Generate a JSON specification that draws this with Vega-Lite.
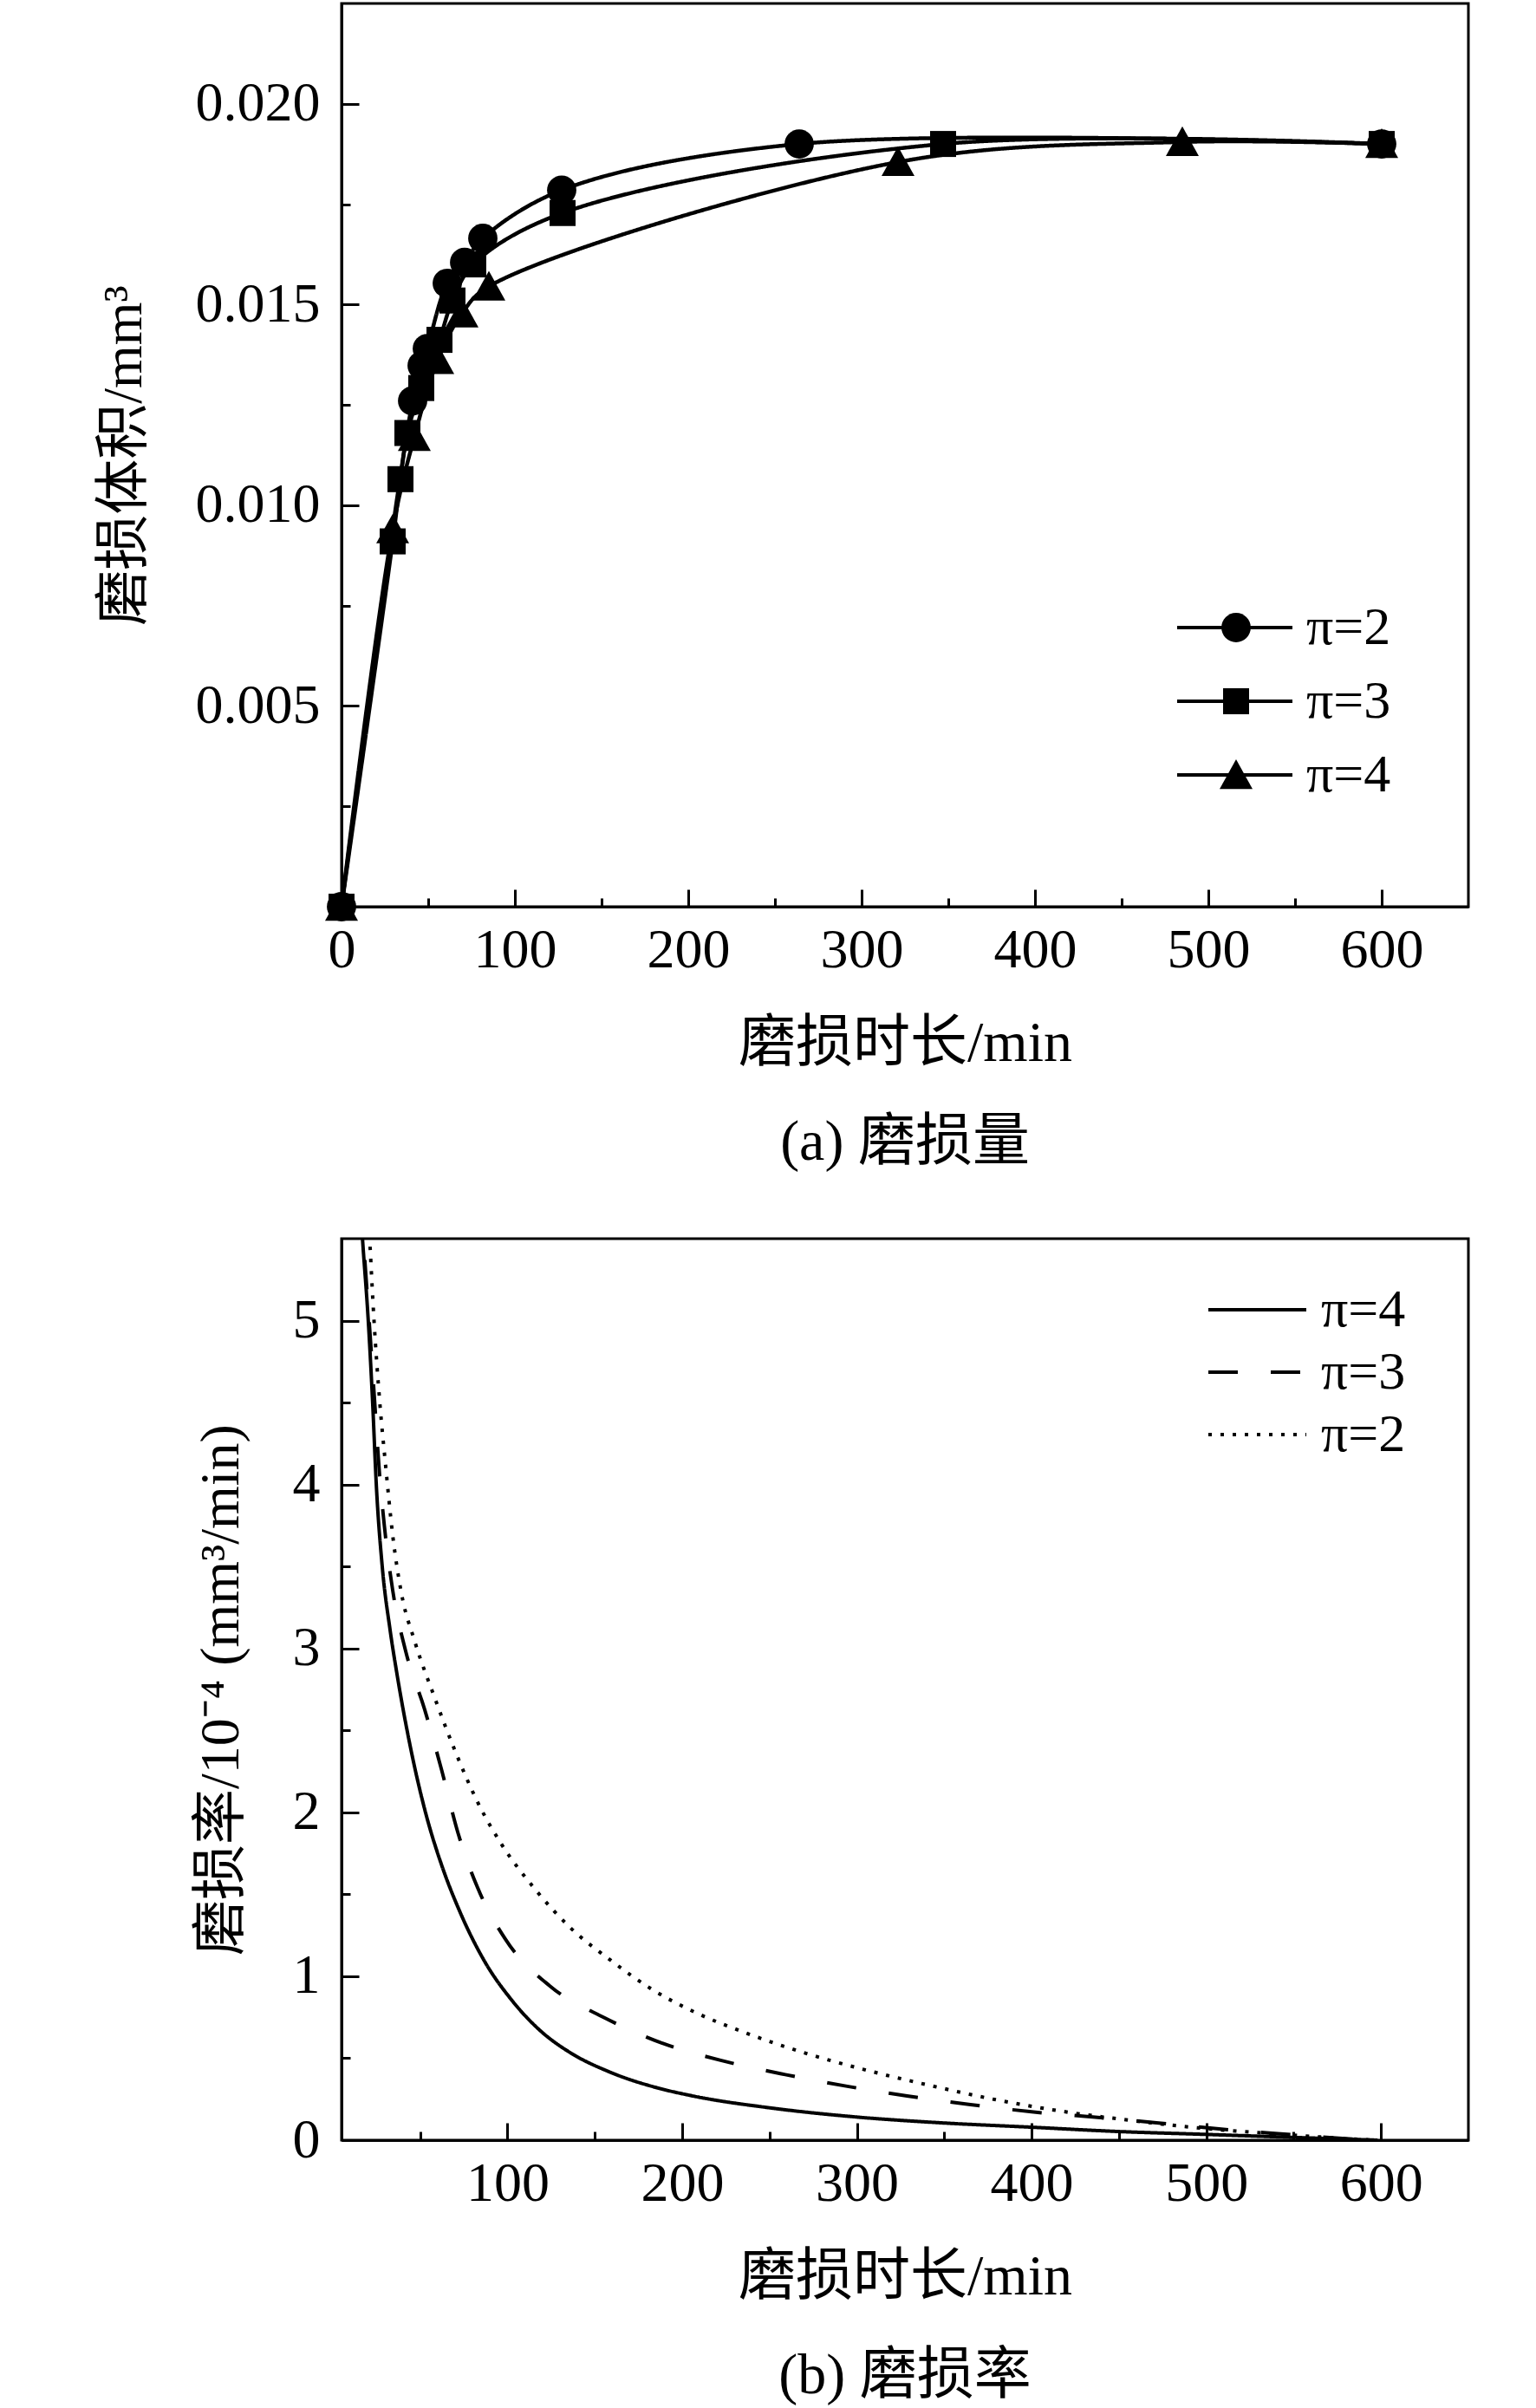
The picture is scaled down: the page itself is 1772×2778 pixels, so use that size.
{
  "$schema": "https://vega.github.io/schema/vega-lite/v6.json",
  "background": "white",
  "padding": {"left": 109, "top": 2, "right": 10, "bottom": 5},
  "spacing": 74,
  "resolve": {"legend": {"shape": "independent", "strokeDash": "independent"}, "scale": {"strokeDash": "independent"}},
  "config": {
    "font": "'Liberation Serif', 'Noto Sans CJK SC'",
    "view": {"stroke": "black", "strokeWidth": 3},
    "axis": {
      "domainColor": "black", "domainWidth": 3, "tickColor": "black", "tickWidth": 3,
      "labelColor": "black", "titleColor": "black",
      "labelFont": "'Liberation Serif'", "titleFont": "'Liberation Serif', 'Noto Sans CJK SC'",
      "labelFontSize": 64, "titleFontSize": 66, "titleFontWeight": "normal",
      "grid": false, "labelFlush": false, "labelOverlap": false
    },
    "legend": {"labelFont": "'Liberation Serif'", "labelColor": "black", "labelFontSize": 62}
  },
  "datasets": {
    "wear": [
      {"t": 0, "v": 0, "s": "π=2"},
      {"t": 41, "v": 0.0126, "s": "π=2"},
      {"t": 46.5, "v": 0.01348, "s": "π=2"},
      {"t": 49.5, "v": 0.0139, "s": "π=2"},
      {"t": 61, "v": 0.01553, "s": "π=2"},
      {"t": 71, "v": 0.01605, "s": "π=2"},
      {"t": 81.5, "v": 0.01665, "s": "π=2"},
      {"t": 127, "v": 0.01785, "s": "π=2"},
      {"t": 264, "v": 0.019, "s": "π=2"},
      {"t": 600, "v": 0.019, "s": "π=2"},
      {"t": 0, "v": 0, "s": "π=3"},
      {"t": 29.5, "v": 0.0091, "s": "π=3"},
      {"t": 34, "v": 0.01065, "s": "π=3"},
      {"t": 38, "v": 0.0118, "s": "π=3"},
      {"t": 46, "v": 0.01292, "s": "π=3"},
      {"t": 56.5, "v": 0.01412, "s": "π=3"},
      {"t": 64, "v": 0.0151, "s": "π=3"},
      {"t": 76, "v": 0.016, "s": "π=3"},
      {"t": 127.5, "v": 0.01728, "s": "π=3"},
      {"t": 347, "v": 0.019, "s": "π=3"},
      {"t": 600, "v": 0.019, "s": "π=3"},
      {"t": 0, "v": 0, "s": "π=4"},
      {"t": 29.5, "v": 0.0094, "s": "π=4"},
      {"t": 42, "v": 0.0117, "s": "π=4"},
      {"t": 55.5, "v": 0.01362, "s": "π=4"},
      {"t": 69.5, "v": 0.01478, "s": "π=4"},
      {"t": 85, "v": 0.01545, "s": "π=4"},
      {"t": 321, "v": 0.01855, "s": "π=4"},
      {"t": 485, "v": 0.01905, "s": "π=4"},
      {"t": 600, "v": 0.019, "s": "π=4"}
    ],
    "rate": [
      {"t": 15.5, "r": 5.75, "s": "π=4"},
      {"t": 17, "r": 5.5, "s": "π=4"},
      {"t": 20.3, "r": 5.0, "s": "π=4"},
      {"t": 22.8, "r": 4.5, "s": "π=4"},
      {"t": 24.9, "r": 4.0, "s": "π=4"},
      {"t": 28.3, "r": 3.5, "s": "π=4"},
      {"t": 32.7, "r": 3.12, "s": "π=4"},
      {"t": 36.8, "r": 2.84, "s": "π=4"},
      {"t": 44.2, "r": 2.41, "s": "π=4"},
      {"t": 53.3, "r": 1.99, "s": "π=4"},
      {"t": 61.6, "r": 1.7, "s": "π=4"},
      {"t": 73.1, "r": 1.385, "s": "π=4"},
      {"t": 86.4, "r": 1.1, "s": "π=4"},
      {"t": 102.9, "r": 0.848, "s": "π=4"},
      {"t": 119.4, "r": 0.662, "s": "π=4"},
      {"t": 135.9, "r": 0.534, "s": "π=4"},
      {"t": 158, "r": 0.418, "s": "π=4"},
      {"t": 185.5, "r": 0.32, "s": "π=4"},
      {"t": 205, "r": 0.272, "s": "π=4"},
      {"t": 252.5, "r": 0.194, "s": "π=4"},
      {"t": 300, "r": 0.141, "s": "π=4"},
      {"t": 347.7, "r": 0.106, "s": "π=4"},
      {"t": 400, "r": 0.079, "s": "π=4"},
      {"t": 449, "r": 0.053, "s": "π=4"},
      {"t": 500, "r": 0.035, "s": "π=4"},
      {"t": 547, "r": 0.018, "s": "π=4"},
      {"t": 598, "r": 0.0, "s": "π=4"},
      {"t": 16, "r": 5.75, "s": "π=3"},
      {"t": 17.5, "r": 5.5, "s": "π=3"},
      {"t": 20.8, "r": 5.0, "s": "π=3"},
      {"t": 24, "r": 4.5, "s": "π=3"},
      {"t": 26.5, "r": 4.1, "s": "π=3"},
      {"t": 29.5, "r": 3.75, "s": "π=3"},
      {"t": 34.3, "r": 3.354, "s": "π=3"},
      {"t": 41.8, "r": 2.98, "s": "π=3"},
      {"t": 52.5, "r": 2.63, "s": "π=3"},
      {"t": 62.4, "r": 2.254, "s": "π=3"},
      {"t": 71.5, "r": 1.88, "s": "π=3"},
      {"t": 82.7, "r": 1.545, "s": "π=3"},
      {"t": 98.8, "r": 1.226, "s": "π=3"},
      {"t": 124.3, "r": 0.94, "s": "π=3"},
      {"t": 155.7, "r": 0.746, "s": "π=3"},
      {"t": 189, "r": 0.59, "s": "π=3"},
      {"t": 224, "r": 0.482, "s": "π=3"},
      {"t": 259, "r": 0.4, "s": "π=3"},
      {"t": 293.8, "r": 0.33, "s": "π=3"},
      {"t": 328.7, "r": 0.27, "s": "π=3"},
      {"t": 365, "r": 0.217, "s": "π=3"},
      {"t": 400, "r": 0.173, "s": "π=3"},
      {"t": 435, "r": 0.141, "s": "π=3"},
      {"t": 471.5, "r": 0.106, "s": "π=3"},
      {"t": 506, "r": 0.07, "s": "π=3"},
      {"t": 541, "r": 0.04, "s": "π=3"},
      {"t": 576, "r": 0.012, "s": "π=3"},
      {"t": 596, "r": 0.0, "s": "π=3"},
      {"t": 19.5, "r": 5.82, "s": "π=2"},
      {"t": 21.1, "r": 5.5, "s": "π=2"},
      {"t": 23.6, "r": 5.0, "s": "π=2"},
      {"t": 26.9, "r": 4.5, "s": "π=2"},
      {"t": 30.2, "r": 4.12, "s": "π=2"},
      {"t": 34.3, "r": 3.69, "s": "π=2"},
      {"t": 39.3, "r": 3.336, "s": "π=2"},
      {"t": 46.7, "r": 3.05, "s": "π=2"},
      {"t": 58.3, "r": 2.7, "s": "π=2"},
      {"t": 69.8, "r": 2.38, "s": "π=2"},
      {"t": 83, "r": 2.06, "s": "π=2"},
      {"t": 96.3, "r": 1.81, "s": "π=2"},
      {"t": 116.1, "r": 1.527, "s": "π=2"},
      {"t": 135.9, "r": 1.297, "s": "π=2"},
      {"t": 160, "r": 1.09, "s": "π=2"},
      {"t": 183, "r": 0.918, "s": "π=2"},
      {"t": 208, "r": 0.777, "s": "π=2"},
      {"t": 236.7, "r": 0.653, "s": "π=2"},
      {"t": 268.4, "r": 0.538, "s": "π=2"},
      {"t": 303.3, "r": 0.433, "s": "π=2"},
      {"t": 341.4, "r": 0.335, "s": "π=2"},
      {"t": 379.4, "r": 0.247, "s": "π=2"},
      {"t": 417.5, "r": 0.176, "s": "π=2"},
      {"t": 458.8, "r": 0.118, "s": "π=2"},
      {"t": 500, "r": 0.07, "s": "π=2"},
      {"t": 538, "r": 0.04, "s": "π=2"},
      {"t": 576, "r": 0.012, "s": "π=2"},
      {"t": 596, "r": 0.0, "s": "π=2"}
    ]
  },
  "vconcat": [
    {
      "width": 1300,
      "height": 1042,
      "title": {"text": "(a) 磨损量", "orient": "bottom", "frame": "group", "anchor": "middle", "offset": 50, "fontSize": 66, "fontWeight": "normal", "font": "'Liberation Serif', 'Noto Sans CJK SC'", "color": "black"},
      "data": {"name": "wear"},
      "layer": [
        {
          "mark": {"type": "line", "interpolate": "catmull-rom", "color": "black", "strokeWidth": 4.5},
          "encoding": {
            "x": {"field": "t", "type": "quantitative", "scale": {"domain": [0, 650], "nice": false, "zero": false},
                  "axis": {"orient": "bottom", "values": [0, 100, 200, 300, 400, 500, 600], "tickSize": -20, "labelPadding": 38, "title": "磨损时长/min", "titlePadding": 43}},
            "y": {"field": "v", "type": "quantitative", "scale": {"domain": [0, 0.0225], "nice": false, "zero": false},
                  "axis": {"orient": "left", "values": [0.005, 0.01, 0.015, 0.02], "format": ".3f", "tickSize": -20, "labelPadding": 45, "title": "磨损体积/mm³", "titlePadding": 50, "titleFontSize": 64}},
            "strokeDash": {"field": "s", "type": "nominal",
              "scale": {"domain": ["π=2", "π=3", "π=4"], "range": [[1, 0], [1, 0], [1, 0]]},
              "legend": {
                "orient": "none", "legendX": 962, "legendY": 688, "title": null, "padding": 0,
                "symbolType": "stroke", "symbolSize": 17689, "symbolStrokeWidth": 4, "symbolStrokeColor": "black",
                "clipHeight": 64, "rowPadding": 21, "labelOffset": 14
              }}
          }
        },
        {
          "mark": {"type": "point", "filled": true, "color": "black", "opacity": 1, "size": 1444},
          "encoding": {
            "x": {"field": "t", "type": "quantitative", "axis": null},
            "y": {"field": "v", "type": "quantitative", "axis": null},
            "shape": {"field": "s", "type": "nominal",
              "scale": {"range": ["M0.89,0A0.89,0.89,0,1,1,-0.89,0A0.89,0.89,0,1,1,0.89,0Z", "M-0.79,-0.79H0.79V0.79H-0.79Z", "M0,-0.95L1,0.85H-1Z"]},
              "legend": {
                "orient": "none", "legendX": 962, "legendY": 688, "title": null, "padding": 0,
                "symbolSize": 1444, "symbolFillColor": "black", "symbolStrokeWidth": 0, "symbolOpacity": 1,
                "symbolOffset": 39, "clipHeight": 64, "rowPadding": 21, "labelOffset": 14, "labelExpr": "''"
              }}
          }
        },
        {
          "mark": {"type": "point", "opacity": 0},
          "encoding": {
            "x": {"field": "t", "type": "quantitative",
                  "axis": {"orient": "bottom", "values": [50, 150, 250, 350, 450, 550], "tickSize": -10, "labels": false, "domain": false, "title": null}},
            "y": {"field": "v", "type": "quantitative",
                  "axis": {"orient": "left", "values": [0.0025, 0.0075, 0.0125, 0.0175], "tickSize": -10, "labels": false, "domain": false, "title": null}}
          }
        }
      ],
      "resolve": {"axis": {"x": "independent", "y": "independent"}}
    },
    {
      "width": 1300,
      "height": 1040,
      "title": {"text": "(b) 磨损率", "orient": "bottom", "frame": "group", "anchor": "middle", "offset": 50, "fontSize": 66, "fontWeight": "normal", "font": "'Liberation Serif', 'Noto Sans CJK SC'", "color": "black"},
      "data": {"name": "rate"},
      "layer": [
        {
          "mark": {"type": "line", "interpolate": "monotone", "color": "black", "strokeWidth": 4, "clip": true},
          "encoding": {
            "x": {"field": "t", "type": "quantitative", "scale": {"domain": [5, 650], "nice": false, "zero": false},
                  "axis": {"orient": "bottom", "values": [100, 200, 300, 400, 500, 600], "tickSize": -20, "labelPadding": 38, "title": "磨损时长/min", "titlePadding": 43}},
            "y": {"field": "r", "type": "quantitative", "scale": {"domain": [0, 5.5], "nice": false, "zero": false},
                  "axis": {"orient": "left", "values": [0, 1, 2, 3, 4, 5], "tickSize": -20, "labelPadding": 45, "title": "磨损率/10⁻⁴ (mm³/min)", "titlePadding": 50, "titleFontSize": 64}},
            "strokeDash": {"field": "s", "type": "nominal", "scale": {"domain": ["π=4", "π=3", "π=2"], "range": [[1, 0], [34, 38], [4, 10]]},
              "legend": {
                "orient": "none", "legendX": 998, "legendY": 50, "title": null, "padding": 0,
                "symbolType": "stroke", "symbolSize": 12769, "symbolStrokeWidth": 4, "symbolStrokeColor": "black",
                "clipHeight": 64, "rowPadding": 8, "labelOffset": 15
              }}
          }
        },
        {
          "mark": {"type": "point", "opacity": 0, "clip": true},
          "encoding": {
            "x": {"field": "t", "type": "quantitative",
                  "axis": {"orient": "bottom", "values": [50, 150, 250, 350, 450, 550], "tickSize": -10, "labels": false, "domain": false, "title": null}},
            "y": {"field": "r", "type": "quantitative",
                  "axis": {"orient": "left", "values": [0.5, 1.5, 2.5, 3.5, 4.5], "tickSize": -10, "labels": false, "domain": false, "title": null}}
          }
        }
      ],
      "resolve": {"axis": {"x": "independent", "y": "independent"}}
    }
  ]
}
